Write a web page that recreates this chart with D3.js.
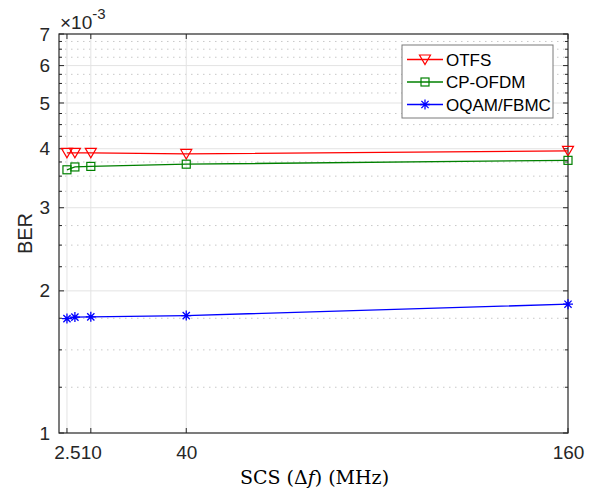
<!DOCTYPE html>
<html>
<head>
<meta charset="utf-8">
<script src="https://cdn.jsdelivr.net/npm/d3@7"></script>
<style>
  body { margin: 0; background: #fff; }
  svg text { font-family: "Liberation Sans", Arial, Helvetica, sans-serif; fill: #262626; }
</style>
</head>
<body>
<div id="chart"></div>
<script>
// data (BER in units of 1e-3)
var scs = [2.5, 5, 10, 40, 160];
var otfs = [3.92, 3.92, 3.92, 3.90, 3.96];
var cpofdm = [3.61, 3.66, 3.67, 3.71, 3.78];
var oqam = [1.747, 1.760, 1.762, 1.773, 1.874];
var seriesNames = ["OTFS", "CP-OFDM", "OQAM/FBMC"];
var xTicks = [2.5, 10, 40, 160];
var yTicks = [1, 2, 3, 4, 5, 6, 7];

var W = 595, H = 491;
var margin = {top: 34, right: 27, bottom: 58, left: 59};
var width = W - margin.left - margin.right,
    height = H - margin.top - margin.bottom;

var svg = d3.select("#chart").append("svg")
    .attr("width", W)
    .attr("height", H);

var g = svg.append("g")
    .attr("transform", "translate(" + margin.left + "," + margin.top + ")");

var x = d3.scaleLinear().domain([0, 160]).range([0, width]);
var y = d3.scaleLog().domain([1, 7]).range([height, 0]);

// minor values every 0.25 between majors
var yMinor = [];
for (var i = 0; i < yTicks.length - 1; i++) {
    for (var k = 1; k < 4; k++) yMinor.push(yTicks[i] + k * 0.25);
}

// minor grid (dotted)
g.selectAll(".minorgrid")
    .data(yMinor)
    .enter().append("line")
    .attr("x1", 0).attr("x2", width)
    .attr("y1", function(d) { return y(d); })
    .attr("y2", function(d) { return y(d); })
    .style("stroke", "#c8c8c8")
    .style("stroke-width", 1)
    .style("stroke-dasharray", "1.5,4.5");

// major grid
g.selectAll(".hgrid")
    .data(yTicks.slice(1, -1))
    .enter().append("line")
    .attr("x1", 0).attr("x2", width)
    .attr("y1", function(d) { return y(d); })
    .attr("y2", function(d) { return y(d); })
    .style("stroke", "#e3e3e3")
    .style("stroke-width", 1);

g.selectAll(".vgrid")
    .data(xTicks.slice(0, -1))
    .enter().append("line")
    .attr("y1", 0).attr("y2", height)
    .attr("x1", function(d) { return x(d); })
    .attr("x2", function(d) { return x(d); })
    .style("stroke", "#e3e3e3")
    .style("stroke-width", 1);

// axes
var xAxis = d3.axisBottom(x).tickValues(xTicks).tickSize(0).tickPadding(13)
    .tickFormat(function(d) { return d; });
var yAxis = d3.axisLeft(y).tickValues(yTicks).tickSize(0).tickPadding(9)
    .tickFormat(function(d) { return d; });

g.append("g")
    .attr("transform", "translate(0," + height + ")")
    .call(xAxis)
    .call(function(s) { s.select(".domain").remove(); })
    .selectAll("text")
    .style("font-size", "19px")
    .style("fill", "#262626");

g.append("g")
    .call(yAxis)
    .call(function(s) { s.select(".domain").remove(); })
    .selectAll("text")
    .style("font-size", "19px")
    .style("fill", "#262626");

// tick marks (inward) on all four sides
var tk = g.append("g").style("stroke", "#262626").style("stroke-width", 1);
yTicks.forEach(function(d) {
    tk.append("line").attr("x1", 0).attr("x2", 5).attr("y1", y(d)).attr("y2", y(d));
    tk.append("line").attr("x1", width).attr("x2", width - 5).attr("y1", y(d)).attr("y2", y(d));
});
yMinor.forEach(function(d) {
    tk.append("line").attr("x1", 0).attr("x2", 3).attr("y1", y(d)).attr("y2", y(d));
    tk.append("line").attr("x1", width).attr("x2", width - 3).attr("y1", y(d)).attr("y2", y(d));
});
xTicks.forEach(function(d) {
    tk.append("line").attr("x1", x(d)).attr("x2", x(d)).attr("y1", height).attr("y2", height - 5);
    tk.append("line").attr("x1", x(d)).attr("x2", x(d)).attr("y1", 0).attr("y2", 5);
});

// box
g.append("rect")
    .attr("width", width).attr("height", height)
    .style("fill", "none")
    .style("stroke", "#262626")
    .style("stroke-width", 1.2);

// exponent label
var ex = svg.append("text")
    .attr("x", margin.left + 1)
    .attr("y", 29)
    .style("font-size", "19px");
ex.append("tspan").text("\u00d710");
ex.append("tspan").attr("dy", -10).style("font-size", "15px").text("-3");

// series
var seriesData = [otfs, cpofdm, oqam];
var colors = ["#ff0000", "#008000", "#0000ff"];
var line = d3.line()
    .x(function(d) { return x(d[0]); })
    .y(function(d) { return y(d[1]); });

function drawMarker(sel, type, color) {
    if (type === 0) {
        sel.append("path")
            .attr("d", "M-5.5,-4.5L5.5,-4.5L0,5z")
            .style("fill", "none").style("stroke", color).style("stroke-width", 1.2);
    } else if (type === 1) {
        sel.append("rect")
            .attr("x", -4).attr("y", -4).attr("width", 8).attr("height", 8)
            .style("fill", "none").style("stroke", color).style("stroke-width", 1.2);
    } else {
        sel.append("path")
            .attr("d", "M-5,0L5,0M0,-5L0,5M-3.6,-3.6L3.6,3.6M-3.6,3.6L3.6,-3.6")
            .style("fill", "none").style("stroke", color).style("stroke-width", 1.3);
    }
}

seriesData.forEach(function(vals, si) {
    var pts = scs.map(function(s, i) { return [s, vals[i]]; });
    g.append("path")
        .datum(pts)
        .attr("d", line)
        .style("fill", "none")
        .style("stroke", colors[si])
        .style("stroke-width", 1.3);
    pts.forEach(function(p) {
        var m = g.append("g").attr("transform", "translate(" + x(p[0]) + "," + y(p[1]) + ")");
        drawMarker(m, si, colors[si]);
    });
});

// legend
var lg = svg.append("g").attr("transform", "translate(402,45)");
lg.append("rect")
    .attr("width", 151).attr("height", 73)
    .style("fill", "#fff")
    .style("stroke", "#7a7a7a")
    .style("stroke-width", 1);
seriesNames.forEach(function(name, i) {
    var yy = 14.5 + i * 22.5;
    lg.append("line")
        .attr("x1", 5).attr("x2", 41).attr("y1", yy).attr("y2", yy)
        .style("stroke", colors[i]).style("stroke-width", 1.3);
    var m = lg.append("g").attr("transform", "translate(23," + yy + ")");
    drawMarker(m, i, colors[i]);
    lg.append("text")
        .attr("x", 44).attr("y", yy + 6)
        .style("font-size", "17px")
        .style("fill", "#000")
        .text(name);
});

// axis labels
var xl = svg.append("text")
    .attr("x", margin.left + width / 2 + 1)
    .attr("y", 484)
    .attr("text-anchor", "middle")
    .style("font-family", "'DejaVu Serif', 'Liberation Serif', serif")
    .style("font-size", "19px")
    .style("fill", "#000");
xl.append("tspan").text("SCS (\u0394");
xl.append("tspan").style("font-style", "italic").text("f");
xl.append("tspan").text(") (MHz)");

svg.append("text")
    .attr("transform", "translate(32," + (margin.top + height / 2) + ") rotate(-90)")
    .attr("text-anchor", "middle")
    .style("font-size", "20px")
    .style("fill", "#262626")
    .text("BER");
</script>
</body>
</html>
